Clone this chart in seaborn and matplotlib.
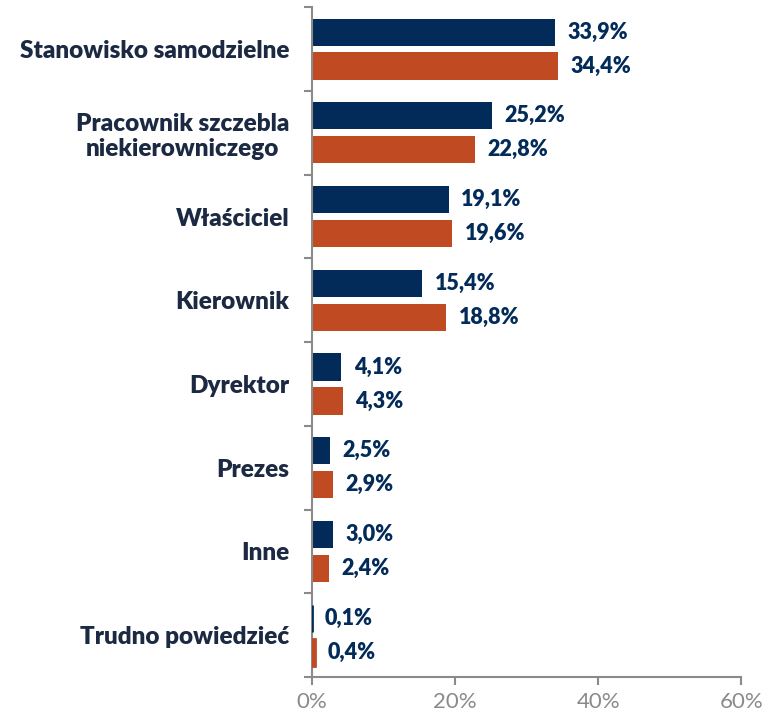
import pandas as pd
import numpy as np
import seaborn as sns
import matplotlib.pyplot as plt
from matplotlib.ticker import FixedLocator

# --- DATA ---
kategorie = ["Stanowisko samodzielne", "Pracownik szczebla\nniekierowniczego",
             "Właściciel", "Kierownik", "Dyrektor", "Prezes", "Inne", "Trudno powiedzieć"]
seria_1 = [33.9, 25.2, 19.1, 15.4, 4.1, 2.5, 3.0, 0.1]
seria_2 = [34.4, 22.8, 19.6, 18.8, 4.3, 2.9, 2.4, 0.4]
nazwy_serii = ["Seria 1", "Seria 2"]
x_ticks = [0, 20, 40, 60]

df = pd.DataFrame({
    "kategoria": kategorie * 2,
    "wartosc": seria_1 + seria_2,
    "seria": [nazwy_serii[0]] * len(kategorie) + [nazwy_serii[1]] * len(kategorie),
})

sns.set_theme(style="white")
plt.rcParams['font.family'] = ['Lato', 'DejaVu Sans']

navy = "#022b59"
orange = "#c04b22"
grey = "#8a8a8a"

fig = plt.figure(figsize=(7.66, 7.18), dpi=100)
ax = fig.add_axes([0.407, 0.057, 0.561, 0.933])

sns.barplot(data=df, y="kategoria", x="wartosc", hue="seria", orient="h",
            palette=[navy, orange], width=0.81, gap=0.2, legend=False, ax=ax,
            saturation=1, linewidth=0)

# bardzo male slupki (0,1%) poszerzone krawedzia, zeby byly widoczne
for cont in ax.containers:
    for bar, v in zip(cont, cont.datavalues):
        if v < 0.5:
            bar.set_edgecolor(bar.get_facecolor())
            bar.set_linewidth(2.0)
            bar.set_zorder(5)

# etykiety wartosci
for cont in ax.containers:
    labels = [f"{v:.1f}".replace(".", ",") + "%" for v in cont.datavalues]
    ax.bar_label(cont, labels=labels, padding=9, color=navy,
                 fontsize=15.5, fontweight="heavy")

ax.set_xlim(0, 60)
ax.set_ylim(len(kategorie) - 0.5, -0.5)
ax.set_xticks(x_ticks)
ax.set_xticklabels([f"{t}%" for t in x_ticks], color=grey, fontsize=16)
ax.set_xlabel("")
ax.set_ylabel("")

ax.set_yticks(range(len(kategorie)))
ax.set_yticklabels(kategorie, fontsize=17.5, fontweight="heavy", color="#1b2a42",
                   multialignment="center")
ax.yaxis.set_minor_locator(FixedLocator(np.arange(-0.5, len(kategorie), 1)))
ax.tick_params(axis="y", which="major", length=0, pad=16)
ax.tick_params(axis="y", which="minor", length=6, width=1.5, color=grey, left=True)
ax.tick_params(axis="x", length=6, width=1.5, color=grey, bottom=True, pad=5)

for s in ["top", "right"]:
    ax.spines[s].set_visible(False)
for s in ["left", "bottom"]:
    ax.spines[s].set_color(grey)
    ax.spines[s].set_linewidth(1.5)

plt.savefig("out.png", dpi=100)
plt.close()
